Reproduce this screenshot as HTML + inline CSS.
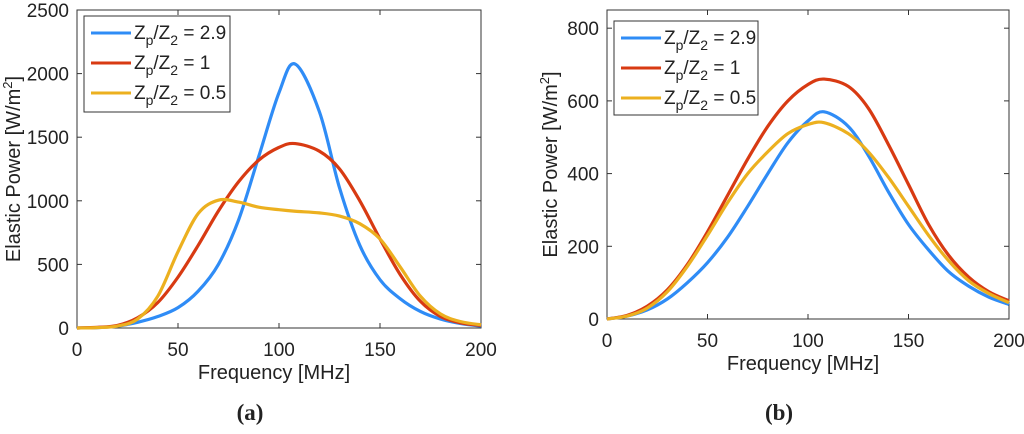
<!DOCTYPE html>
<html><head><meta charset="utf-8"><style>
body{margin:0;background:#fff;width:1024px;height:429px;overflow:hidden}
svg text{font-family:"Liberation Sans",sans-serif;fill:#222}
</style></head><body>
<svg id="s" width="1024" height="429"></svg>
<script>
const freqA=[0,10,20,30,40,50,60,70,80,90,100,108,120,130,140,150,160,170,180,190,200];
const blueA=[0,3,15,45,90,160,290,500,850,1350,1850,2075,1700,1100,650,380,230,130,70,35,15];
const redA=[0,5,20,80,200,400,650,920,1150,1320,1420,1450,1390,1250,1000,700,420,210,90,40,20];
const yellowA=[0,3,15,70,250,600,900,1005,990,950,930,918,905,880,820,700,480,250,110,50,25];
const freqB=[0,10,20,30,40,50,60,70,80,90,100,108,120,130,140,150,160,170,180,190,200];
const blueB=[0,8,25,55,100,155,225,310,400,485,545,570,530,450,350,260,190,130,90,60,40];
const redB=[0,10,35,80,150,240,340,440,530,600,645,660,640,580,480,370,260,175,115,75,50];
const yellowB=[0,8,30,75,145,230,320,400,460,510,535,540,510,460,390,310,230,160,105,70,45];
const xTicks=[0,50,100,150,200];
const yTicksA=[0,500,1000,1500,2000,2500];
const yTicksB=[0,200,400,600,800];
const labels=["2.9","1","0.5"];
const colors=["#2f8cf6","#d83a12","#ecb01f"];
const NS="http://www.w3.org/2000/svg";
const svg=document.getElementById('s');
function el(t,a,p){const e=document.createElementNS(NS,t);for(const k in a)e.setAttribute(k,a[k]);(p||svg).appendChild(e);return e;}
function panel(id,L,R,T,B,ymax,yt,series,xs,leg,cap){
 const g=el('g',{});
 
 
 const sx=v=>L+(v/200)*(R-L), sy=v=>B-(v/ymax)*(B-T);
 const box=el('rect',{x:L,y:T,width:R-L,height:B-T,fill:'#fff',stroke:'#333','stroke-width':1},g);
 
 
 xTicks.forEach(v=>{const x=sx(v);
  el('line',{x1:x,x2:x,y1:B,y2:B-5,stroke:'#333'},g);el('line',{x1:x,x2:x,y1:T,y2:T+5,stroke:'#333'},g);
  const t=el('text',{x:x,y:B+28,'text-anchor':'middle','font-size':19},g);t.textContent=v;
  
  });
 yt.forEach(v=>{const y=sy(v);
  el('line',{x1:L,x2:L+5,y1:y,y2:y,stroke:'#333'},g);el('line',{x1:R,x2:R-5,y1:y,y2:y,stroke:'#333'},g);
  const t=el('text',{x:L-8,y:y+7,'text-anchor':'end','font-size':19},g);t.textContent=v;
  
  });
 series.forEach((d,i)=>{
  const pts=xs.map((f,j)=>[sx(f),sy(d[j])]);
  let p='M'+pts[0][0]+','+pts[0][1];
  for(let j=0;j<pts.length-1;j++){const p0=pts[Math.max(0,j-1)],p1=pts[j],p2=pts[j+1],p3=pts[Math.min(pts.length-1,j+2)];
   p+=' C'+(p1[0]+(p2[0]-p0[0])/6)+','+(p1[1]+(p2[1]-p0[1])/6)+' '+(p2[0]-(p3[0]-p1[0])/6)+','+(p2[1]-(p3[1]-p1[1])/6)+' '+p2[0]+','+p2[1];}
  const pa=el('path',{d:p,fill:'none',stroke:colors[i],'stroke-width':3.2,'stroke-linejoin':'round'},g);
  
  
 });
 const xl=el('text',{x:(L+R)/2-5,y:B+51,'text-anchor':'middle','font-size':20},g);xl.textContent='Frequency [MHz]';
 
 
 const cy=(T+B)/2, cx=id==='a'?L-57:L-50;
 const yl=el('text',{x:cx,y:cy,'text-anchor':'middle','font-size':20,transform:`rotate(-90 ${cx} ${cy})`},g);
 yl.innerHTML='Elastic Power [W/m<tspan dy="-8" font-size="13">2</tspan><tspan dy="8">]</tspan>';
 
 
 const lg=el('g',{},g);
 
 
 el('rect',{x:leg[0],y:leg[1],width:leg[2],height:leg[3],fill:'#fff',stroke:'#333'},lg);
 labels.forEach((l,i)=>{const y=leg[1]+17+i*30;
  const e=el('g',{},lg);
  
  
  el('line',{x1:leg[0]+7,x2:leg[0]+47,y1:y,y2:y,stroke:colors[i],'stroke-width':3},e);
  const t=el('text',{x:leg[0]+50,y:y+6,'font-size':19},e);
  t.innerHTML='Z<tspan dy="6" font-size="14">p</tspan><tspan dy="-6">/Z</tspan><tspan dy="6" font-size="14">2</tspan><tspan dy="-6"> = '+l+'</tspan>';});
 const c=el('text',{x:(L+R)/2-29,y:420,'text-anchor':'middle','font-size':23,style:'font-family:"Liberation Serif",serif;font-weight:bold'},g);
 c.textContent='('+cap+')';
 
 
}
panel('a',77,481,10,328,2500,yTicksA,[blueA,redA,yellowA],freqA,[84,16,146,96],'a');
panel('b',607,1009,10,319,850,yTicksB,[blueB,redB,yellowB],freqB,[614,21,144,94],'b');
</script>
</body></html>
